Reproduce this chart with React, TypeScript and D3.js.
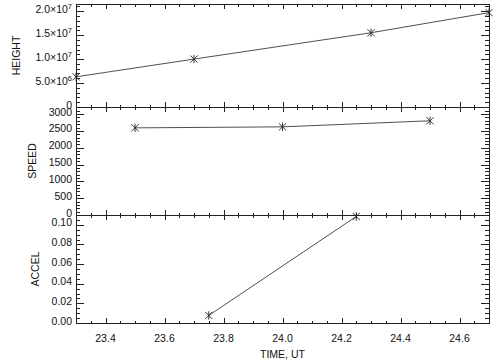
import * as d3 from 'd3';

// time axis (hours, UT)
const timeDomain = [23.3, 24.7];
const timeTicks = [23.4, 23.6, 23.8, 24.0, 24.2, 24.4, 24.6];

// HEIGHT panel
const heightTime = [23.3, 23.7, 24.3, 24.7];
const heightValues = [6.3e6, 1.0e7, 1.55e7, 1.97e7];
const heightTicks = [0, 5e6, 1e7, 1.5e7, 2e7];
const heightTickLabels = ['0', '5.0|6', '1.0|7', '1.5|7', '2.0|7'];

// SPEED panel
const speedTime = [23.5, 24.0, 24.5];
const speedValues = [2590, 2620, 2800];
const speedTicks = [0, 500, 1000, 1500, 2000, 2500, 3000];
const speedTickLabels = ['0', '500', '1000', '1500', '2000', '2500', '3000'];

// ACCEL panel
const accelTime = [23.75, 24.25];
const accelValues = [0.0077, 0.1085];
const accelTicks = [0, 0.02, 0.04, 0.06, 0.08, 0.1];
const accelTickLabels = ['0.00', '0.02', '0.04', '0.06', '0.08', '0.10'];

const W = 504;
const H = 360;
const left = 76;
const right = 489;
const font = '"Liberation Sans", Arial, Helvetica, sans-serif';
const ink = '#222';

const panels = [
  { title: 'HEIGHT', titleX: 16, top: 4, bottom: 107, domain: [0, 2.15e7], minor: 1e6,
    ticks: heightTicks, labels: heightTickLabels, t: heightTime, v: heightValues },
  { title: 'SPEED', titleX: 32, top: 107, bottom: 215, domain: [0, 3210], minor: 100,
    ticks: speedTicks, labels: speedTickLabels, t: speedTime, v: speedValues },
  { title: 'ACCEL', titleX: 35.5, top: 215, bottom: 323, domain: [0, 0.11], minor: 0.005,
    ticks: accelTicks, labels: accelTickLabels, t: accelTime, v: accelValues },
];

function Asterisk({ x, y }: { x: number; y: number }) {
  const r = 3.6;
  return (
    <g stroke={ink} strokeWidth={0.9}>
      <line x1={x - r} y1={y - r} x2={x + r} y2={y + r} />
      <line x1={x - r} y1={y + r} x2={x + r} y2={y - r} />
      <line x1={x} y1={y - r - 0.6} x2={x} y2={y + r + 0.6} />
    </g>
  );
}

function TickLabel({ y, label }: { y: number; label: string }) {
  const [mant, exp] = label.split('|');
  return (
    <text x={72} y={y + 1.5} textAnchor="end" fontSize={10.5} fontFamily={font} fill="#111">
      {exp ? `${mant}×10` : mant}
      {exp && (
        <tspan dy={-4} fontSize={7.5}>
          {exp}
        </tspan>
      )}
    </text>
  );
}

export default function App() {
  const x = d3.scaleLinear().domain(timeDomain).range([left, right]);
  const xMinor = d3
    .range(Math.round(timeDomain[0] / 0.05), Math.round(timeDomain[1] / 0.05) + 1)
    .map((k) => k * 0.05)
    .filter((t) => t > timeDomain[0] + 1e-6 && t < timeDomain[1] - 1e-6);

  return (
    <svg width={W} height={H} style={{ position: 'absolute', left: 0, top: 0 }}>
      <rect width={W} height={H} fill="#fff" />
      {panels.map((p) => {
        const y = d3.scaleLinear().domain(p.domain).range([p.bottom, p.top]);
        const line = d3
          .line<number>()
          .x((_, i) => x(p.t[i]))
          .y((d) => y(d));
        const yMinor = d3
          .range(0, Math.floor(p.domain[1] / p.minor + 1e-6) + 1)
          .map((k) => k * p.minor)
          .filter((v) => v > p.domain[0] + 1e-9 && v < p.domain[1] - 1e-9);
        const isMajorX = (t: number) => timeTicks.some((m) => Math.abs(m - t) < 1e-6);
        const isMajorY = (v: number) => p.ticks.some((m) => Math.abs(m - v) < p.minor / 10);
        return (
          <g key={p.title}>
            <rect
              x={left}
              y={p.top}
              width={right - left}
              height={p.bottom - p.top}
              fill="none"
              stroke={ink}
              strokeWidth={1}
              shapeRendering="crispEdges"
            />
            <g stroke={ink} strokeWidth={1} shapeRendering="crispEdges">
              {xMinor.map((t) => {
                const len = isMajorX(t) ? 5 : 2.5;
                const xx = Math.round(x(t)) + 0.5;
                return (
                  <g key={`x${t}`}>
                    <line x1={xx} x2={xx} y1={p.bottom} y2={p.bottom - len} />
                    <line x1={xx} x2={xx} y1={p.top} y2={p.top + len} />
                  </g>
                );
              })}
              {yMinor.map((v) => {
                const len = isMajorY(v) ? 8 : 4;
                const yy = Math.round(y(v)) + 0.5;
                return (
                  <g key={`y${v}`}>
                    <line x1={left} x2={left + len} y1={yy} y2={yy} />
                    <line x1={right} x2={right - len} y1={yy} y2={yy} />
                  </g>
                );
              })}
            </g>
            {p.ticks.map((v, i) => (
              <TickLabel key={v} y={y(v)} label={p.labels[i]} />
            ))}
            <text
              transform={`translate(${p.titleX},${(p.top + p.bottom) / 2}) rotate(-90)`}
              textAnchor="middle"
              dy="0.36em"
              fontSize={10.5}
              fontFamily={font}
              fill="#111"
            >
              {p.title}
            </text>
            <path d={line(p.v) ?? ''} fill="none" stroke={ink} strokeWidth={0.8} />
            {p.v.map((v, i) => (
              <Asterisk key={i} x={x(p.t[i])} y={y(v)} />
            ))}
          </g>
        );
      })}
      {timeTicks.map((t) => (
        <text
          key={t}
          x={x(t)}
          y={342}
          textAnchor="middle"
          fontSize={10.5}
          fontFamily={font}
          fill="#111"
        >
          {t.toFixed(1)}
        </text>
      ))}
      <text x={(left + right) / 2} y={358} textAnchor="middle" fontSize={10.5} fontFamily={font} fill="#111">
        TIME, UT
      </text>
    </svg>
  );
}
